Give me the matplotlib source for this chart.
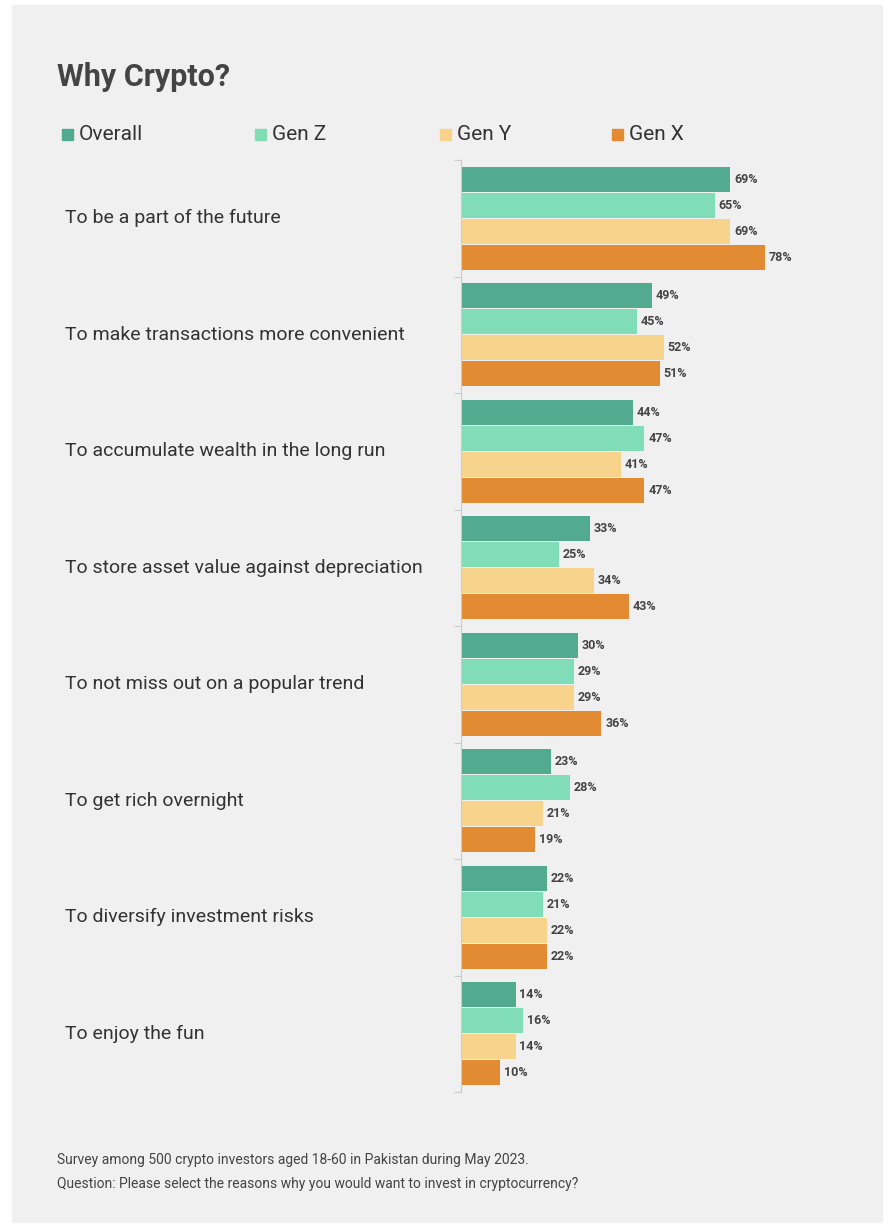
import matplotlib.pyplot as plt
from matplotlib.patches import Rectangle

categories = ['To be a part of the future', 'To make transactions more convenient',
              'To accumulate wealth in the long run', 'To store asset value against depreciation',
              'To not miss out on a popular trend', 'To get rich overnight',
              'To diversify investment risks', 'To enjoy the fun']
series = ['Overall', 'Gen Z', 'Gen Y', 'Gen X']
overall = [69, 49, 44, 33, 30, 23, 22, 14]
gen_z = [65, 45, 47, 25, 29, 28, 21, 16]
gen_y = [69, 52, 41, 34, 29, 21, 22, 14]
gen_x = [78, 51, 47, 43, 36, 19, 22, 10]
colors = ['#52aa8f', '#80ddb8', '#f7d38c', '#e38b33']

plt.rcParams['font.family'] = ['Roboto', 'DejaVu Sans']
fig = plt.figure(figsize=(8.94, 12.27), dpi=100)
fig.patches.append(Rectangle((12/894, 1-1222/1227), 870/894, 1217/1227,
                             transform=fig.transFigure, color='#f0f0f0', zorder=-10))

ax = fig.add_axes([461/894, 1-1092/1227, 390/894, 932/1227])
ax.set_facecolor('none')
n = len(categories)
h = 0.215
for j, vals in enumerate([overall, gen_z, gen_y, gen_x]):
    for i, v in enumerate(vals):
        y = i + (j - 1.5) * 0.224
        ax.barh(y, v, height=h, color=colors[j])
        ax.text(v + 1, y, f'{v}%', va='center', ha='left', fontsize=9,
                fontweight='bold', color='#444444')
ax.set_xlim(0, 100)
ax.set_ylim(n - 0.5, -0.5)
ax.set_xticks([])
ax.set_yticks([i - 0.5 for i in range(n + 1)])
ax.set_yticklabels([])
ax.tick_params(axis='y', length=5, color='#cccccc')
for s in ['top', 'right', 'bottom']:
    ax.spines[s].set_visible(False)
ax.spines['left'].set_color('#cccccc')
for i, c in enumerate(categories):
    ax.text(-396/390*100, i, c, ha='left', va='center', fontsize=14, color='#333333')

fig.text(57/894, 1-77/1227, 'Why Crypto?', fontsize=22, fontweight='bold',
         color='#444444', va='center')
for x, s, c in zip([62, 255, 440, 612], series, colors):
    fig.patches.append(Rectangle((x/894, 1-140/1227), 11/894, 11/1227,
                                 transform=fig.transFigure, color=c))
    fig.text((x + 17)/894, 1-134/1227, s, fontsize=15, color='#333333', va='center')

fig.text(57/894, 1-1160/1227, 'Survey among 500 crypto investors aged 18-60 in Pakistan during May 2023.',
         fontsize=10, color='#444444', va='center')
fig.text(57/894, 1-1184/1227, 'Question: Please select the reasons why you would want to invest in cryptocurrency?',
         fontsize=10, color='#444444', va='center')

fig.savefig('out.png', dpi=100)
